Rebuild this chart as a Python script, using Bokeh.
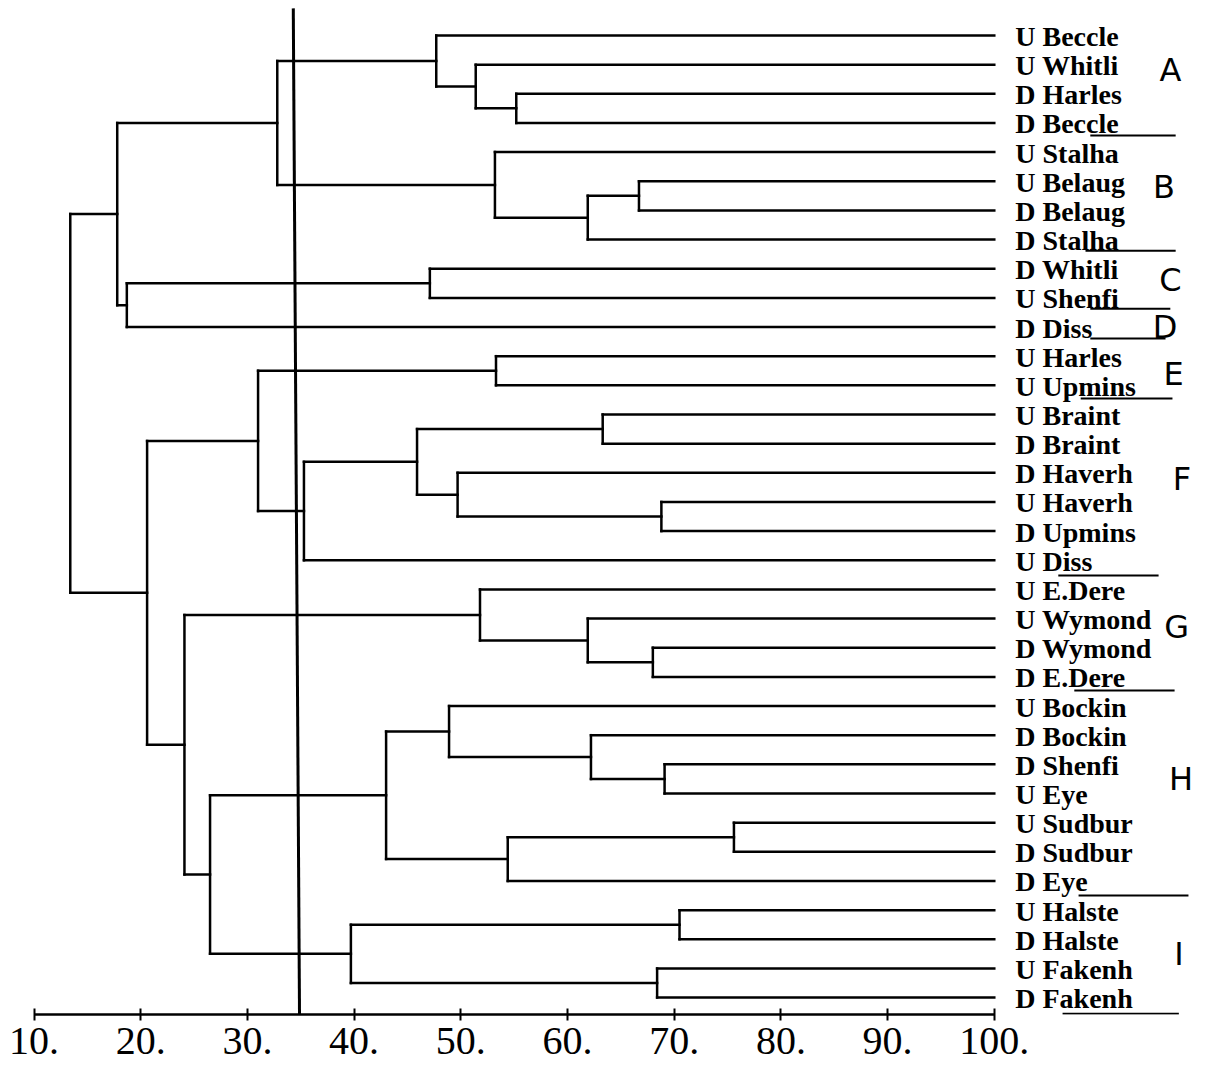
from bokeh.plotting import figure
from bokeh.models import Range1d, LinearAxis, FixedTicker
from bokeh.core.properties import value
from bokeh.embed import file_html
from bokeh.resources import INLINE

# ---------------- data ----------------
leaf_labels = [
    "U Beccle", "U Whitli", "D Harles", "D Beccle", "U Stalha", "U Belaug",
    "D Belaug", "D Stalha", "D Whitli", "U Shenfi", "D Diss", "U Harles",
    "U Upmins", "U Braint", "D Braint", "D Haverh", "U Haverh", "D Upmins",
    "U Diss", "U E.Dere", "U Wymond", "D Wymond", "D E.Dere", "U Bockin",
    "D Bockin", "D Shenfi", "U Eye", "U Sudbur", "D Sudbur", "D Eye",
    "U Halste", "D Halste", "U Fakenh", "D Fakenh",
]
leaf_level = 100.0

# merges: node ids continue after the 34 leaves (34, 35, ...)
merge_left = [2, 1, 0, 5, 37, 4, 36, 8, 41, 40,
              11, 13, 16, 15, 45, 48, 44,
              21, 20, 19, 25, 24, 23, 27, 57, 56, 30, 32, 60, 59, 53, 50, 43]
merge_right = [3, 34, 35, 6, 7, 38, 39, 9, 10, 42,
               12, 14, 17, 46, 47, 18, 49,
               22, 51, 52, 26, 54, 55, 28, 29, 58, 31, 33, 61, 62, 63, 64, 65]
merge_level = [55.2, 51.4, 47.7, 66.7, 61.9, 53.2, 32.8, 47.1, 18.7, 17.8,
               53.3, 63.3, 68.8, 49.7, 45.9, 35.3, 31.0,
               68.0, 61.9, 51.8, 69.1, 62.2, 48.9, 75.6, 54.4, 43.0,
               70.5, 68.4, 39.7, 26.5, 24.1, 20.6, 13.4]

tick_values = [10, 20, 30, 40, 50, 60, 70, 80, 90, 100]
tick_labels = ["10.", "20.", "30.", "40.", "50.", "60.", "70.", "80.", "90.", "100."]

cut_level_top = 34.3
cut_level_bottom = 34.9

group_letters = ["A", "B", "C", "D", "E", "F", "G", "H", "I"]
group_letter_x = [116.5, 115.9, 116.5, 116.0, 116.8, 117.6, 117.1, 117.5, 117.3]
group_letter_y = [1.2, 5.2, 8.4, 10.0, 11.6, 15.2, 20.3, 25.5, 31.5]

underline_x0 = [109.0, 108.55, 109.0, 109.0, 108.1, 106.0, 107.5, 107.9, 106.4]
underline_x1 = [117.0, 117.0, 116.5, 116.05, 116.7, 115.4, 116.9, 118.2, 117.3]
underline_y = [3.43, 7.38, 9.37, 10.39, 12.45, 18.52, 22.47, 29.5, 33.55]

# ---------------- dendrogram geometry ----------------
n = len(leaf_labels)
pos_x = {i: leaf_level for i in range(n)}
pos_y = {i: float(i) for i in range(n)}
x0, y0, x1, y1 = [], [], [], []
for k, (l, r, h) in enumerate(zip(merge_left, merge_right, merge_level)):
    node = n + k
    for c in (l, r):
        x0.append(pos_x[c]); y0.append(pos_y[c]); x1.append(h); y1.append(pos_y[c])
    x0.append(h); y0.append(pos_y[l]); x1.append(h); y1.append(pos_y[r])
    pos_x[node] = h
    pos_y[node] = (pos_y[l] + pos_y[r]) / 2.0

# ---------------- figure ----------------
p = figure(width=1206, height=1072,
           x_range=Range1d(6.86, 119.89), y_range=Range1d(33.58, -1.20),
           x_axis_location=None, y_axis_location=None,
           toolbar_location=None, output_backend="svg",
           min_border=0, min_border_left=0, min_border_right=0,
           min_border_top=0, min_border_bottom=58,
           outline_line_color=None, background_fill_color="white")
p.xgrid.visible = False
p.ygrid.visible = False

axis = LinearAxis(ticker=FixedTicker(ticks=tick_values), bounds=(10, 100),
                  major_label_overrides={v: s for v, s in zip(tick_values, tick_labels)},
                  axis_line_width=2.5, axis_line_color="black",
                  major_tick_in=6, major_tick_out=6, major_tick_line_width=2,
                  minor_tick_line_color=None,
                  major_label_text_font="Liberation Serif",
                  major_label_text_font_size="40px",
                  major_label_text_color="black",
                  major_label_standoff=7)
p.add_layout(axis, "below")

p.segment(x0=x0, y0=y0, x1=x1, y1=y1, line_color="black", line_width=2.5,
          line_cap="square")

# cut line
p.segment(x0=[cut_level_top], y0=[-0.93], x1=[cut_level_bottom], y1=[34.5],
          line_color="black", line_width=3)

# leaf labels
p.text(x=[leaf_level] * n, y=list(range(n)), text=leaf_labels,
       x_offset=21, y_offset=1, text_baseline="middle", text_align="left",
       text_font=value("Liberation Serif"), text_font_style="bold",
       text_font_size="28px", text_color="black")

# handwritten group annotations
p.text(x=group_letter_x, y=group_letter_y, text=group_letters,
       text_baseline="middle", text_align="center",
       text_font=value("DejaVu Sans"), text_font_size="32px", text_color="black")
p.segment(x0=underline_x0, y0=underline_y, x1=underline_x1, y1=underline_y,
          line_color="black", line_width=2)

open("out.html", "w").write(file_html(p, INLINE))
